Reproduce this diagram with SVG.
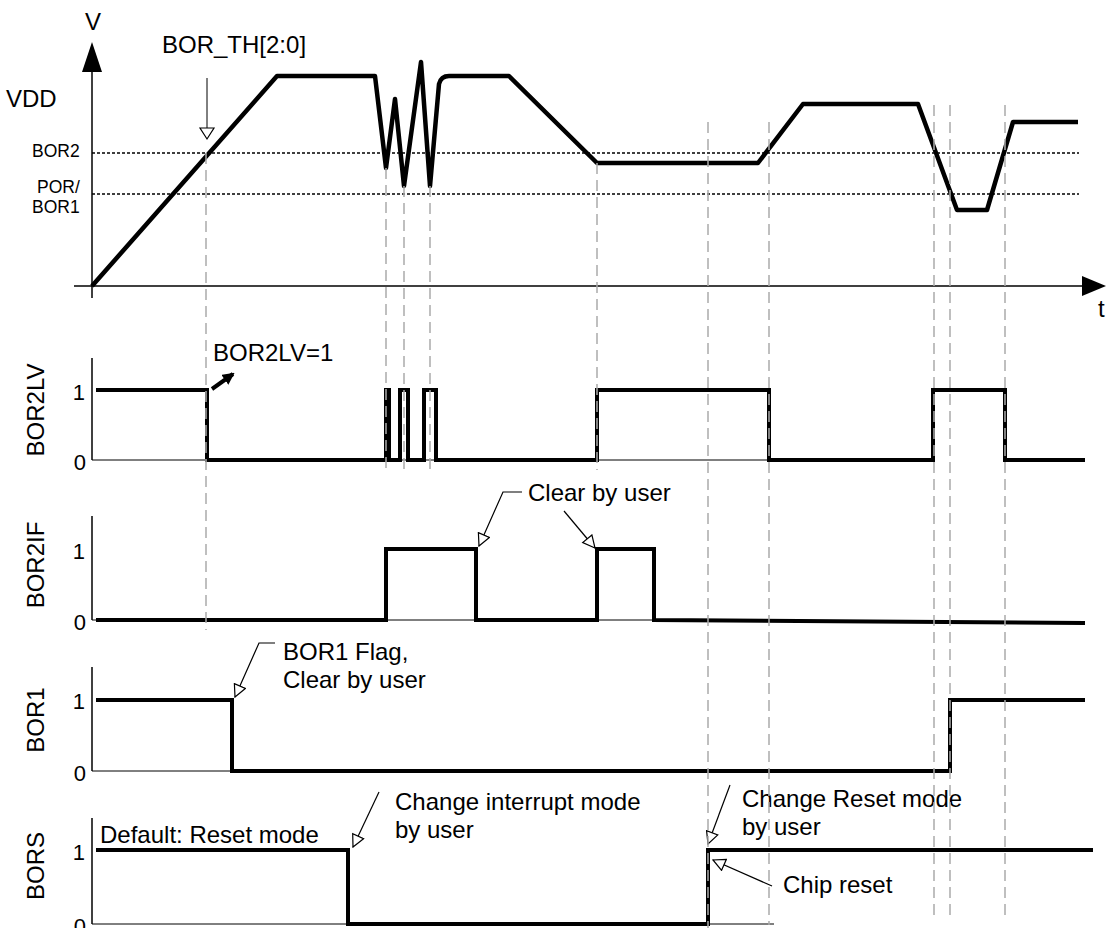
<svg xmlns="http://www.w3.org/2000/svg" width="1108" height="928" viewBox="0 0 1108 928">
<style>
text{font-family:"Liberation Sans",Arial,sans-serif;fill:#000}
.lbl{font-size:24px}
.sm{font-size:17.5px}
.dig{font-size:22px}
.sig{fill:none;stroke:#000;stroke-width:4;stroke-linejoin:miter}
.vdd{fill:none;stroke:#000;stroke-width:4.5;stroke-linejoin:round}
.ax{stroke:#000;stroke-width:1.5;fill:none}
.thin{stroke:#000;stroke-width:1;fill:none}
.dash{stroke:#aaa;stroke-width:1.5;stroke-dasharray:11 6;fill:none}
.dot{stroke:#000;stroke-width:1.3;stroke-dasharray:3 2;fill:none}
.lead{stroke:#000;stroke-width:1.2;fill:none;marker-end:url(#oa)}
</style>
<defs>
<marker id="oa" viewBox="0 0 14 14" refX="13" refY="7" markerWidth="14" markerHeight="14" markerUnits="userSpaceOnUse" orient="auto">
<path d="M1,1 L13,7 L1,13 Z" fill="#fff" stroke="#000" stroke-width="1.2"/>
</marker>
<marker id="fa" viewBox="0 0 12 12" refX="10" refY="6" markerWidth="12" markerHeight="12" markerUnits="userSpaceOnUse" orient="auto">
<path d="M0,0 L12,6 L0,12 Z" fill="#000"/>
</marker>
</defs>
<rect width="1108" height="928" fill="#fff"/>

<g id="vdd-chart">
<line class="ax" x1="92" y1="70" x2="92" y2="298"/>
<polygon points="92,42 82,72 102,72" fill="#000"/>
<line class="ax" x1="74" y1="286" x2="1086" y2="286"/>
<polygon points="1082,276 1106,286 1082,296" fill="#000"/>
<line class="dot" x1="92" y1="153" x2="1079" y2="153"/>
<line class="dot" x1="92" y1="194" x2="1079" y2="194"/>
<text class="lbl" x="93" y="30" text-anchor="middle">V</text>
<text class="lbl" x="1098" y="317">t</text>
<text class="lbl" x="6" y="107">VDD</text>
<text class="sm" x="32" y="157">BOR2</text>
<text class="sm" x="37" y="193">POR/</text>
<text class="sm" x="32" y="213">BOR1</text>
<text class="lbl" x="162" y="53">BOR_TH[2:0]</text>
<line class="thin" x1="207" y1="78" x2="207" y2="128"/>
<polygon points="200,128 214,128 207,139" fill="#fff" stroke="#000" stroke-width="1.2"/>
<path class="vdd" d="M92,286 L277,76 L375,76 L386,168 L395,99 L404,186 L421,62 L430,186 L439,84 Q441,76 449,76 L509,76 L597,163 L758,163 L803,104 L918,104 L957,210 L987,210 L1013,122 L1078,122"/>
</g>

<g id="bor2lv">
<line class="ax" x1="92" y1="358" x2="92" y2="460"/>
<line class="thin" x1="92" y1="460" x2="774" y2="460"/>
<text class="lbl" transform="translate(44,410) rotate(-90)" text-anchor="middle">BOR2LV</text>
<text class="dig" x="85" y="400" text-anchor="end">1</text>
<text class="dig" x="86" y="470" text-anchor="end">0</text>
<path class="sig" d="M96,390 H207 V460 H386 V390 H389 V460 H400 V390 H408 V460 H424 V390 H436 V460 H597 V390 H769 V460 H933 V390 H1005 V460 H1085"/>
<text class="lbl" x="213" y="361">BOR2LV=1</text>
<line x1="212" y1="389" x2="233" y2="374" stroke="#000" stroke-width="4" marker-end="url(#fa)"/>
</g>

<g id="bor2if">
<line class="ax" x1="92" y1="516" x2="92" y2="620"/>
<line class="thin" x1="92" y1="620" x2="774" y2="620"/>
<text class="lbl" transform="translate(44,565) rotate(-90)" text-anchor="middle">BOR2IF</text>
<text class="dig" x="85" y="559" text-anchor="end">1</text>
<text class="dig" x="86" y="630" text-anchor="end">0</text>
<path class="sig" d="M96,620 H386 V549 H476 V620 H597 V549 H654 V620 L1085,623"/>
<text class="lbl" x="528" y="501">Clear by user</text>
<path class="lead" d="M522,492 H503 L479,546"/>
<path class="lead" d="M564,511 L595,548"/>
</g>

<g id="bor1">
<line class="ax" x1="92" y1="667" x2="92" y2="771"/>
<line class="thin" x1="92" y1="771" x2="774" y2="771"/>
<text class="lbl" transform="translate(44,720) rotate(-90)" text-anchor="middle">BOR1</text>
<text class="dig" x="85" y="709" text-anchor="end">1</text>
<text class="dig" x="86" y="781" text-anchor="end">0</text>
<path class="sig" d="M96,700 H232 V771 H950 V700 H1085"/>
<text class="lbl" x="283" y="660">BOR1 Flag,</text>
<text class="lbl" x="283" y="688">Clear by user</text>
<path class="lead" d="M275,643 H259 L235,697"/>
</g>

<g id="bors">
<line class="ax" x1="92" y1="818" x2="92" y2="924"/>
<line class="thin" x1="92" y1="924" x2="774" y2="924"/>
<text class="lbl" transform="translate(44,866) rotate(-90)" text-anchor="middle">BORS</text>
<text class="dig" x="85" y="860" text-anchor="end">1</text>
<text class="dig" x="86" y="934" text-anchor="end">0</text>
<path class="sig" d="M96,850 H348 V924 H708 V850 H1093"/>
<text class="lbl" x="100" y="843">Default: Reset mode</text>
<text class="lbl" x="395" y="810">Change interrupt mode</text>
<text class="lbl" x="395" y="838">by user</text>
<path class="lead" d="M379,792 L353,847"/>
<text class="lbl" x="742" y="807">Change Reset mode</text>
<text class="lbl" x="742" y="835">by user</text>
<path class="lead" d="M730,785 L708,844"/>
<text class="lbl" x="783" y="893">Chip reset</text>
<path class="lead" d="M772,886 L713,860"/>
</g>

<g id="guides">
<line class="dash" x1="206" y1="153" x2="206" y2="630"/>
<line class="dash" x1="386" y1="168" x2="386" y2="470"/>
<line class="dash" x1="404" y1="186" x2="404" y2="470"/>
<line class="dash" x1="430" y1="186" x2="430" y2="470"/>
<line class="dash" x1="597" y1="163" x2="597" y2="470"/>
<line class="dash" x1="708" y1="122" x2="708" y2="928"/>
<line class="dash" x1="769" y1="122" x2="769" y2="925"/>
<line class="dash" x1="934" y1="105" x2="934" y2="918"/>
<line class="dash" x1="950" y1="105" x2="950" y2="918"/>
<line class="dash" x1="1005" y1="105" x2="1005" y2="918"/>
</g>
</svg>
